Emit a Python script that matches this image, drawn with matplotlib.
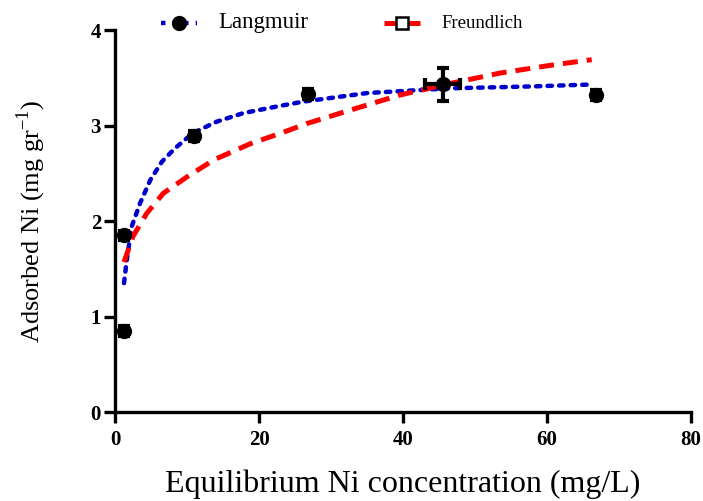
import matplotlib.pyplot as plt
from matplotlib.lines import Line2D

plt.rcParams["font.family"] = ["Liberation Serif", "DejaVu Serif"]
plt.rcParams["mathtext.fontset"] = "custom"
plt.rcParams["mathtext.rm"] = "Liberation Serif"

# experimental points
conc = [1.2, 1.3, 11.0, 26.8, 45.5, 66.8]
adsorbed = [0.85, 1.85, 2.89, 3.33, 3.43, 3.32]
conc_err = [0.0, 0.0, 0.0, 0.0, 2.4, 0.0]
ads_err = [0.05, 0.05, 0.05, 0.05, 0.17, 0.05]

# fitted curves
lang_x = [1.25, 1.6, 2.3, 3.5, 4.9, 6.5, 8.3, 10.8, 14.1, 17.8, 22.5, 26.1, 35.0, 46.5, 58.0, 66.2]
lang_y = [1.35, 1.57, 1.94, 2.19, 2.43, 2.62, 2.76, 2.92, 3.04, 3.13, 3.20, 3.25, 3.34, 3.39, 3.41, 3.43]
freu_x = [1.25, 2.5, 4.4, 6.7, 9.95, 13.7, 18.8, 23.4, 26.6, 32.6, 39.6, 46.5, 53.5, 60.4, 66.2]
freu_y = [1.57, 1.84, 2.08, 2.29, 2.46, 2.64, 2.81, 2.93, 3.02, 3.16, 3.32, 3.44, 3.55, 3.63, 3.69]

fig = plt.figure(figsize=(7.03, 5.01), dpi=100)
ax = fig.add_axes([0.1636, 0.1776, 0.8194, 0.7624])

ax.plot(lang_x, lang_y, color="#0000cc", linestyle=(0, (1, 1.6)), linewidth=3.2, dash_capstyle="round")
ax.plot(freu_x, freu_y, color="#ff0000", linestyle=(0, (3, 1.8)), linewidth=3.6)
ax.errorbar(conc, adsorbed, xerr=conc_err, yerr=ads_err, fmt="o", color="black",
            markersize=10, elinewidth=3, capsize=4, capthick=3)

ax.set_xlim(0, 80)
ax.set_ylim(0, 4)
ax.set_xticks([0, 20, 40, 60, 80])
ax.set_yticks([0, 1, 2, 3, 4])
for s in ("top", "right"):
    ax.spines[s].set_visible(False)
for s in ("left", "bottom"):
    ax.spines[s].set_linewidth(2.4)
ax.tick_params(width=2.4, length=8, direction="out", labelsize=15, pad=2)
ax.tick_params(axis="x", pad=5)
for lab in ax.get_xticklabels() + ax.get_yticklabels():
    lab.set_fontweight("bold")

ax.set_xlabel("Equilibrium Ni concentration (mg/L)", fontsize=23, labelpad=14)
ax.set_ylabel("Adsorbed Ni (mg gr$^{-1}$)", fontsize=19, labelpad=31)

handles = [
    Line2D([], [], color="#0000cc", linestyle=(0, (1, 1.6)), linewidth=3.2,
           marker="o", markersize=10, markerfacecolor="black", markeredgecolor="black"),
    Line2D([], [], color="#ff0000", linestyle=(0, (3, 1.8)), linewidth=3.6,
           marker="s", markersize=9, markerfacecolor="white", markeredgecolor="black",
           markeredgewidth=1.8),
]
leg = fig.legend(handles, ["Langmuir", "Freundlich"], loc="center left", ncol=2,
                 bbox_to_anchor=(0.229, 0.955), frameon=False, handlelength=2.6,
                 columnspacing=5.5, handletextpad=1.5, borderpad=0, borderaxespad=0)
leg.get_texts()[0].set_fontsize(16.5)
leg.get_texts()[1].set_fontsize(13.5)

fig.savefig("out.png", dpi=100)
